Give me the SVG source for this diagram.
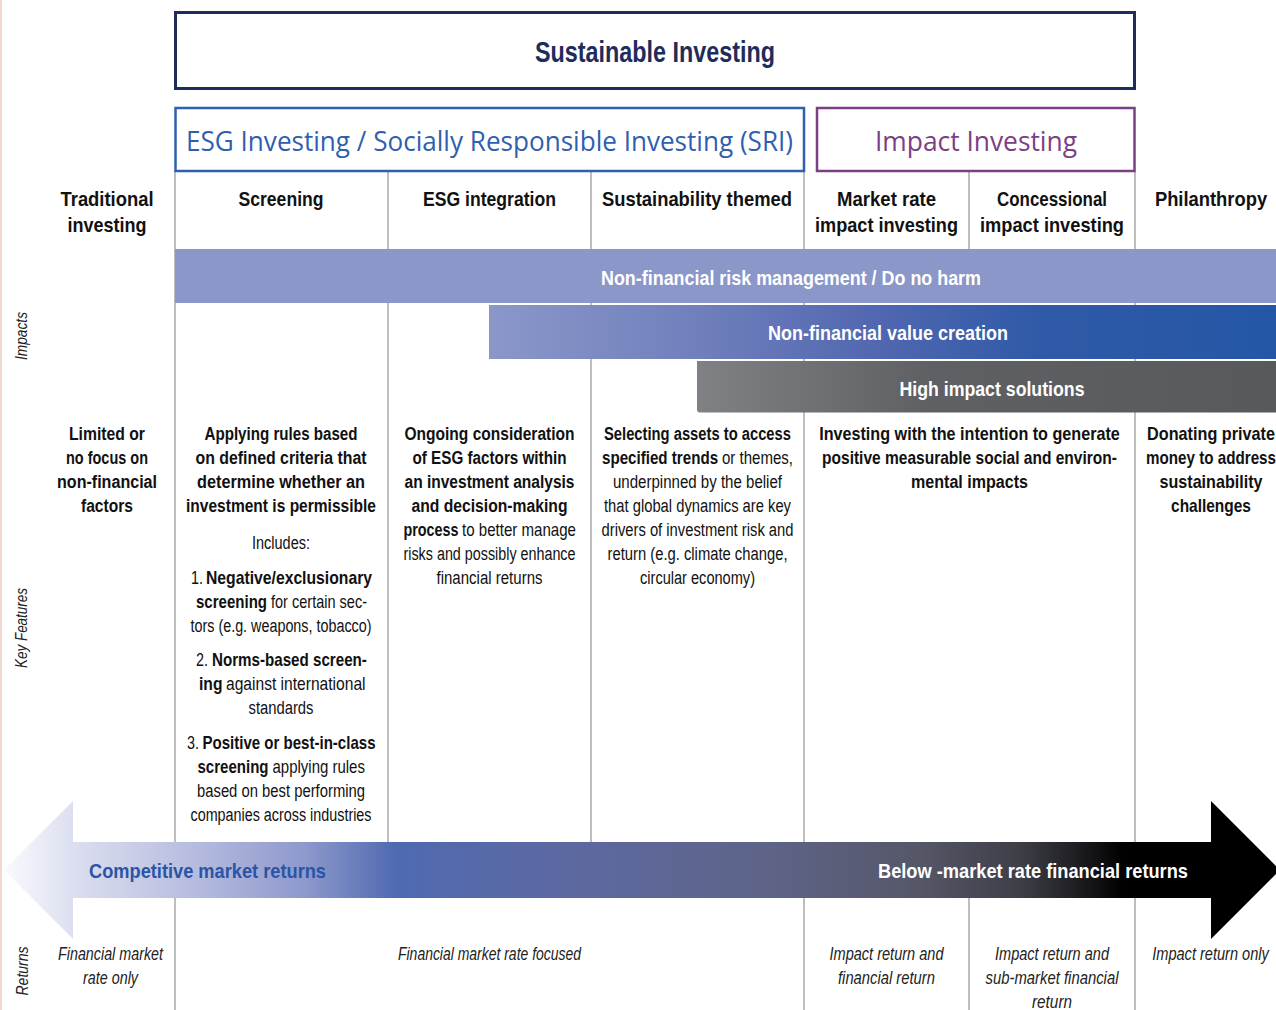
<svg xmlns="http://www.w3.org/2000/svg" width="1276" height="1010" viewBox="0 0 1276 1010">
<style>
  text{font-family:"Liberation Sans",Arial,sans-serif;text-anchor:middle;fill:#111}
  .h{font-size:21px;font-weight:bold}
  .b{font-size:18px;font-weight:bold}
  .r{font-size:18px;font-weight:normal}
  .s{text-anchor:start}
  .i{font-size:18px;font-style:italic;fill:#222}
  .side{font-size:17px;font-style:italic;fill:#222}
  .band{font-size:21px;font-weight:bold;fill:#fff}
  .grid line{stroke:#a3a3a3;stroke-width:1.4}
</style>
<defs>
  <linearGradient id="gBand2" gradientUnits="userSpaceOnUse" x1="489" y1="0" x2="1276" y2="0">
    <stop offset="0" stop-color="#8b97c9"/>
    <stop offset="0.25" stop-color="#7281bd"/>
    <stop offset="0.5" stop-color="#5066b0"/>
    <stop offset="0.7" stop-color="#2f5aa8"/>
    <stop offset="1" stop-color="#2556a6"/>
  </linearGradient>
  <linearGradient id="gBand3" gradientUnits="userSpaceOnUse" x1="697" y1="0" x2="1276" y2="0">
    <stop offset="0" stop-color="#808184"/>
    <stop offset="0.4" stop-color="#5f6063"/>
    <stop offset="1" stop-color="#58595b"/>
  </linearGradient>
  <linearGradient id="gArrow" gradientUnits="userSpaceOnUse" x1="0" y1="0" x2="1276" y2="0">
    <stop offset="0" stop-color="#fbfbfe"/>
    <stop offset="0.057" stop-color="#dcdff0"/>
    <stop offset="0.16" stop-color="#b3b9dd"/>
    <stop offset="0.24" stop-color="#8d98cc"/>
    <stop offset="0.31" stop-color="#4f6ab1"/>
    <stop offset="0.45" stop-color="#5d68a0"/>
    <stop offset="0.6" stop-color="#5e6488"/>
    <stop offset="0.72" stop-color="#555768"/>
    <stop offset="0.8" stop-color="#3e3e47"/>
    <stop offset="0.86" stop-color="#111114"/>
    <stop offset="0.88" stop-color="#000"/>
    <stop offset="1" stop-color="#000"/>
  </linearGradient>
</defs>

<rect x="0" y="0" width="1276" height="1010" fill="#fff"/>
<line x1="1" y1="0" x2="1" y2="1010" stroke="#f2d9d0" stroke-width="2"/>

<!-- grid lines -->
<g class="grid" id="grid">
  <line x1="175" y1="171" x2="175" y2="1010"/>
  <line x1="388" y1="171" x2="388" y2="842"/>
  <line x1="591" y1="171" x2="591" y2="842"/>
  <line x1="804" y1="171" x2="804" y2="1010"/>
  <line x1="969" y1="171" x2="969" y2="249"/>
  <line x1="969" y1="898" x2="969" y2="1010"/>
  <line x1="1135" y1="171" x2="1135" y2="1010"/>
</g>

<!-- title boxes -->
<g id="sustainable-investing">
  <rect x="175.5" y="12.5" width="959" height="76" fill="#fff" stroke="#1e2c5c" stroke-width="3"/>
  <text x="655" y="62" style="font-size:29px;font-weight:bold;fill:#1e2c5c" textLength="240" lengthAdjust="spacingAndGlyphs">Sustainable Investing</text>
</g>
<g id="esg-investing">
  <rect x="175.5" y="108" width="628.5" height="63" fill="#fff" stroke="#2f5fae" stroke-width="2.5"/>
  <text x="489.5" y="151" style="font-family:'Open Sans','Liberation Sans',sans-serif;font-size:27px;fill:#2f5fae" textLength="607" lengthAdjust="spacingAndGlyphs">ESG Investing / Socially Responsible Investing (SRI)</text>
</g>
<g id="impact-investing">
  <rect x="817" y="108" width="317.5" height="63" fill="#fff" stroke="#7b3f85" stroke-width="2.5"/>
  <text x="976" y="151" style="font-family:'Open Sans','Liberation Sans',sans-serif;font-size:27px;fill:#7b3f85" textLength="202" lengthAdjust="spacingAndGlyphs">Impact Investing</text>
</g>

<!-- column headers -->
<g id="col-traditional-header">
  <text class="h" x="107" y="206" textLength="93" lengthAdjust="spacingAndGlyphs">Traditional</text>
  <text class="h" x="107" y="232" textLength="79" lengthAdjust="spacingAndGlyphs">investing</text>
</g>
<g id="col-screening-header">
  <text class="h" x="281" y="206" textLength="85" lengthAdjust="spacingAndGlyphs">Screening</text>
</g>
<g id="col-esg-integration-header">
  <text class="h" x="489.5" y="206" textLength="133" lengthAdjust="spacingAndGlyphs">ESG integration</text>
</g>
<g id="col-themed-header">
  <text class="h" x="697" y="206" textLength="190" lengthAdjust="spacingAndGlyphs">Sustainability themed</text>
</g>
<g id="col-market-rate-header">
  <text class="h" x="886.5" y="206" textLength="99" lengthAdjust="spacingAndGlyphs">Market rate</text>
  <text class="h" x="886.5" y="232" textLength="143" lengthAdjust="spacingAndGlyphs">impact investing</text>
</g>
<g id="col-concessional-header">
  <text class="h" x="1052" y="206" textLength="110" lengthAdjust="spacingAndGlyphs">Concessional</text>
  <text class="h" x="1052" y="232" textLength="144" lengthAdjust="spacingAndGlyphs">impact investing</text>
</g>
<g id="col-philanthropy-header">
  <text class="h" transform="translate(1211,206) scale(0.875,1)">Philanthropy</text>
</g>

<!-- impact bands -->
<g id="band-risk-management">
  <rect x="175" y="249" width="1101" height="54" fill="#8b97c9"/>
  <text class="band" x="791" y="285" textLength="380" lengthAdjust="spacingAndGlyphs">Non-financial risk management / Do no harm</text>
</g>
<g id="band-value-creation">
  <rect x="489" y="305" width="787" height="54" fill="url(#gBand2)"/>
  <text class="band" x="888" y="340" textLength="240" lengthAdjust="spacingAndGlyphs">Non-financial value creation</text>
</g>
<g id="band-high-impact">
  <path d="M697,361 H1276 V412.5 H700 Q697,412.5 697,409.5 Z" fill="url(#gBand3)"/>
  <text class="band" x="992" y="396" textLength="185" lengthAdjust="spacingAndGlyphs">High impact solutions</text>
</g>

<!-- side labels -->
<g id="side-labels">
  <text class="side" transform="translate(27,336) rotate(-90)" textLength="48" lengthAdjust="spacingAndGlyphs">Impacts</text>
  <text class="side" transform="translate(27,628) rotate(-90)" textLength="80" lengthAdjust="spacingAndGlyphs">Key Features</text>
  <text class="side" transform="translate(28,971) rotate(-90)" textLength="49" lengthAdjust="spacingAndGlyphs">Returns</text>
</g>

<!-- key features -->
<g id="kf-traditional">
  <text class="b" x="107" y="440" textLength="76" lengthAdjust="spacingAndGlyphs">Limited or</text>
  <text class="b" x="107" y="464" textLength="82" lengthAdjust="spacingAndGlyphs">no focus on</text>
  <text class="b" x="107" y="488" textLength="100" lengthAdjust="spacingAndGlyphs">non-financial</text>
  <text class="b" x="107" y="512" textLength="52" lengthAdjust="spacingAndGlyphs">factors</text>
</g>
<g id="kf-screening">
  <text class="b" x="281" y="440" textLength="153" lengthAdjust="spacingAndGlyphs">Applying rules based</text>
  <text class="b" x="281" y="464" textLength="171" lengthAdjust="spacingAndGlyphs">on defined criteria that</text>
  <text class="b" x="281" y="488" textLength="168" lengthAdjust="spacingAndGlyphs">determine whether an</text>
  <text class="b" x="281" y="512" textLength="190" lengthAdjust="spacingAndGlyphs">investment is permissible</text>
  <text class="r" x="281" y="549" textLength="58" lengthAdjust="spacingAndGlyphs">Includes:</text>
  <text class="r s" transform="translate(191,584) scale(0.8,1)">1.</text>
  <text class="b s" transform="translate(206,584) scale(0.874,1)">Negative/exclusionary</text>
  <text class="b s" transform="translate(196,608) scale(0.835,1)">screening</text>
  <text class="r s" transform="translate(271,608) scale(0.807,1)">for certain sec-</text>
  <text class="r" x="281" y="632" textLength="181" lengthAdjust="spacingAndGlyphs">tors (e.g. weapons, tobacco)</text>
  <text class="r s" transform="translate(196,666) scale(0.8,1)">2.</text>
  <text class="b s" transform="translate(212,666) scale(0.842,1)">Norms-based screen-</text>
  <text class="b s" transform="translate(199,690) scale(0.87,1)">ing</text>
  <text class="r s" transform="translate(226,690) scale(0.867,1)">against international</text>
  <text class="r" x="281" y="714" textLength="65" lengthAdjust="spacingAndGlyphs">standards</text>
  <text class="r s" transform="translate(187,749) scale(0.8,1)">3.</text>
  <text class="b s" transform="translate(202.5,749) scale(0.836,1)">Positive or best-in-class</text>
  <text class="b s" transform="translate(197.5,773) scale(0.835,1)">screening</text>
  <text class="r s" transform="translate(272.5,773) scale(0.833,1)">applying rules</text>
  <text class="r" x="281" y="797" textLength="168" lengthAdjust="spacingAndGlyphs">based on best performing</text>
  <text class="r" x="281" y="821" textLength="181" lengthAdjust="spacingAndGlyphs">companies across industries</text>
</g>
<g id="kf-esg-integration">
  <text class="b" x="489.5" y="440" textLength="170" lengthAdjust="spacingAndGlyphs">Ongoing consideration</text>
  <text class="b" x="489.5" y="464" textLength="154" lengthAdjust="spacingAndGlyphs">of ESG factors within</text>
  <text class="b" x="489.5" y="488" textLength="170" lengthAdjust="spacingAndGlyphs">an investment analysis</text>
  <text class="b" x="489.5" y="512" textLength="156" lengthAdjust="spacingAndGlyphs">and decision-making</text>
  <text class="b s" transform="translate(403.5,536) scale(0.797,1)">process</text>
  <text class="r s" transform="translate(462,536) scale(0.838,1)">to better manage</text>
  <text class="r" x="489.5" y="560" textLength="172" lengthAdjust="spacingAndGlyphs">risks and possibly enhance</text>
  <text class="r" x="489.5" y="584" textLength="106" lengthAdjust="spacingAndGlyphs">financial returns</text>
</g>
<g id="kf-themed">
  <text class="b" x="697.5" y="440" textLength="187" lengthAdjust="spacingAndGlyphs">Selecting assets to access</text>
  <text class="b s" transform="translate(602,464) scale(0.841,1)">specified trends</text>
  <text class="r s" transform="translate(722,464) scale(0.835,1)">or themes,</text>
  <text class="r" x="697.5" y="488" textLength="169" lengthAdjust="spacingAndGlyphs">underpinned by the belief</text>
  <text class="r" x="697.5" y="512" textLength="187" lengthAdjust="spacingAndGlyphs">that global dynamics are key</text>
  <text class="r" x="697.5" y="536" textLength="192" lengthAdjust="spacingAndGlyphs">drivers of investment risk and</text>
  <text class="r" x="697.5" y="560" textLength="180" lengthAdjust="spacingAndGlyphs">return (e.g. climate change,</text>
  <text class="r" x="697.5" y="584" textLength="115" lengthAdjust="spacingAndGlyphs">circular economy)</text>
</g>
<g id="kf-impact">
  <text class="b" transform="translate(969.5,440) scale(0.898,1)">Investing with the intention to generate</text>
  <text class="b" transform="translate(969.5,464) scale(0.8625,1)">positive measurable social and environ-</text>
  <text class="b" x="969.5" y="488" textLength="117" lengthAdjust="spacingAndGlyphs">mental impacts</text>
</g>
<g id="kf-philanthropy">
  <text class="b" transform="translate(1211,440) scale(0.901,1)">Donating private</text>
  <text class="b" transform="translate(1211,464) scale(0.844,1)">money to address</text>
  <text class="b" transform="translate(1211,488) scale(0.896,1)">sustainability</text>
  <text class="b" transform="translate(1211,512) scale(0.86,1)">challenges</text>
</g>

<!-- returns arrow -->
<g id="connectors">
  <path d="M4,870 L73,801 L73,842 L1211,842 L1211,801 L1280,870 L1211,939 L1211,898 L73,898 L73,939 Z" fill="url(#gArrow)"/>
  <text x="207.5" y="878" style="font-size:21px;font-weight:bold;fill:#2a55a5" textLength="237" lengthAdjust="spacingAndGlyphs">Competitive market returns</text>
  <text class="band" x="1033" y="878" textLength="310" lengthAdjust="spacingAndGlyphs">Below -market rate financial returns</text>
</g>

<!-- returns row -->
<g id="ret-traditional">
  <text class="i" x="110.5" y="960" textLength="105" lengthAdjust="spacingAndGlyphs">Financial market</text>
  <text class="i" x="110.5" y="984" textLength="55" lengthAdjust="spacingAndGlyphs">rate only</text>
</g>
<g id="ret-esg">
  <text class="i" x="489.5" y="960" textLength="183" lengthAdjust="spacingAndGlyphs">Financial market rate focused</text>
</g>
<g id="ret-market-rate">
  <text class="i" x="886.5" y="960" textLength="114" lengthAdjust="spacingAndGlyphs">Impact return and</text>
  <text class="i" x="886.5" y="984" textLength="97" lengthAdjust="spacingAndGlyphs">financial return</text>
</g>
<g id="ret-concessional">
  <text class="i" x="1052" y="960" textLength="114" lengthAdjust="spacingAndGlyphs">Impact return and</text>
  <text class="i" x="1052" y="984" textLength="133" lengthAdjust="spacingAndGlyphs">sub-market financial</text>
  <text class="i" x="1052" y="1008" textLength="40" lengthAdjust="spacingAndGlyphs">return</text>
</g>
<g id="ret-philanthropy">
  <text class="i" transform="translate(1210.5,960) scale(0.81,1)">Impact return only</text>
</g>
</svg>
